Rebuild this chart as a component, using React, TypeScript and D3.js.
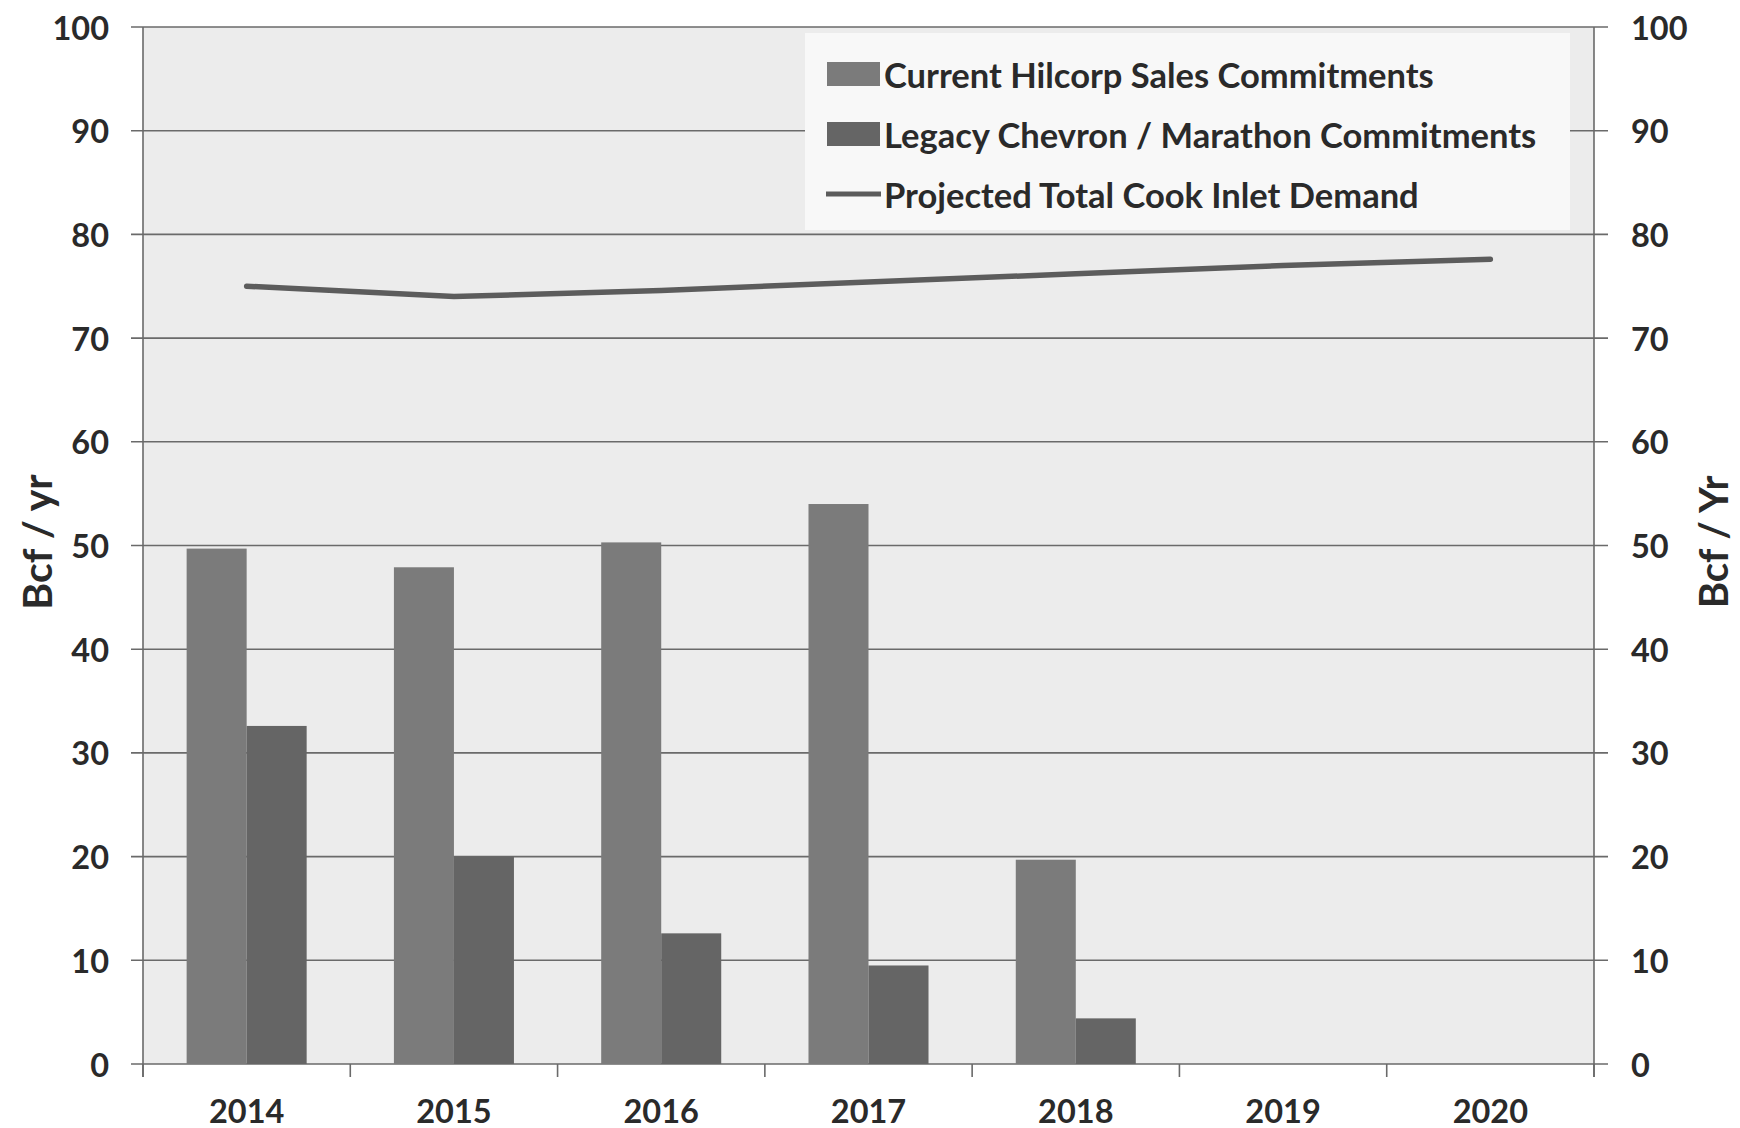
import React from "react";
import * as d3 from "d3";

const years = ["2014", "2015", "2016", "2017", "2018", "2019", "2020"];
const seriesNames = [
  "Current Hilcorp Sales Commitments",
  "Legacy Chevron / Marathon Commitments",
];
const hilcorp: (number | null)[] = [49.7, 47.9, 50.3, 54.0, 19.7, null, null];
const legacy: (number | null)[] = [32.6, 20.0, 12.6, 9.5, 4.4, null, null];
const demand = [75.0, 74.0, 74.6, 75.4, 76.2, 77.0, 77.6];
const lineName = "Projected Total Cook Inlet Demand";
const yTicks = [0, 10, 20, 30, 40, 50, 60, 70, 80, 90, 100];
const leftTitle = "Bcf / yr";
const rightTitle = "Bcf / Yr";

const W = 1740;
const H = 1128;
const L = 143;
const R = 1594;
const T = 27;
const B = 1064;
const FONT = "Lato, 'Open Sans', sans-serif";
const TEXT = "#2a2a2a";
const GRID = "#6a6a6a";
const barColors = ["#7b7b7b", "#656565"];

export default function App() {
  const x = d3.scaleBand<string>().domain(years).range([L, R]).padding(0);
  const xs = d3
    .scaleBand<number>()
    .domain([0, 1])
    .range([0, x.bandwidth()])
    .paddingInner(0)
    .paddingOuter(0.727);
  const y = d3.scaleLinear().domain([0, 100]).range([B, T]);
  const series = [hilcorp, legacy];
  const line = d3
    .line<number>()
    .x((_, i) => (x(years[i]) as number) + x.bandwidth() / 2)
    .y((d) => y(d));

  const boundaries = years.map((yr) => x(yr) as number).concat([R]);

  return (
    <div style={{ position: "absolute", left: 0, top: 0 }}>
      <svg width={W} height={H} style={{ display: "block", background: "#fff" }}>
        <rect x={L} y={T} width={R - L} height={B - T} fill="#ececec" />
        {yTicks.map((t) => (
          <g key={t}>
            <line x1={L - 12} x2={R + 14} y1={y(t)} y2={y(t)} stroke={GRID} strokeWidth={1.6} />
            <text
              x={109}
              y={y(t)}
              textAnchor="end"
              dominantBaseline="central"
              fontFamily={FONT}
              fontWeight={700}
              fontSize={32.5}
              fill={TEXT}
            >
              {t}
            </text>
            <text
              x={1631}
              y={y(t)}
              textAnchor="start"
              dominantBaseline="central"
              fontFamily={FONT}
              fontWeight={700}
              fontSize={32.5}
              fill={TEXT}
            >
              {t}
            </text>
          </g>
        ))}
        <line x1={L} x2={L} y1={T} y2={B + 13} stroke={GRID} strokeWidth={1.6} />
        <line x1={R} x2={R} y1={T} y2={B + 13} stroke={GRID} strokeWidth={1.6} />
        {boundaries.map((bx, i) => (
          <line key={i} x1={bx} x2={bx} y1={B} y2={B + 13} stroke={GRID} strokeWidth={1.6} />
        ))}
        {series.map((vals, si) =>
          vals.map((v, i) =>
            v == null ? null : (
              <rect
                key={si + "-" + i}
                x={(x(years[i]) as number) + (xs(si) as number)}
                y={y(v)}
                width={xs.bandwidth()}
                height={B - y(v)}
                fill={barColors[si]}
              />
            )
          )
        )}
        <path d={line(demand) || ""} fill="none" stroke="#5c5c5c" strokeWidth={5.5} strokeLinecap="round" />
        {years.map((yr) => (
          <text
            key={yr}
            x={(x(yr) as number) + x.bandwidth() / 2}
            y={1110}
            textAnchor="middle"
            dominantBaseline="central"
            fontFamily={FONT}
            fontWeight={700}
            fontSize={32.5}
            fill={TEXT}
          >
            {yr}
          </text>
        ))}
        <text
          transform={`translate(36,542) rotate(-90)`}
          textAnchor="middle"
          dominantBaseline="central"
          fontFamily={FONT}
          fontWeight={700}
          fontSize={41}
          fill={TEXT}
        >
          {leftTitle}
        </text>
        <text
          transform={`translate(1713,542) rotate(-90)`}
          textAnchor="middle"
          dominantBaseline="central"
          fontFamily={FONT}
          fontWeight={700}
          fontSize={40}
          fill={TEXT}
        >
          {rightTitle}
        </text>
        <rect x={805} y={33} width={765} height={197} fill="#f8f8f8" />
        {[0, 1, 2].map((i) => {
          const cy = 74 + i * 60;
          const label = i < 2 ? seriesNames[i] : lineName;
          return (
            <g key={i}>
              {i < 2 ? (
                <rect x={827} y={cy - 12} width={53} height={24} fill={barColors[i]} />
              ) : (
                <line x1={826} x2={881} y1={cy} y2={cy} stroke="#5c5c5c" strokeWidth={5} />
              )}
              <text
                x={884}
                y={cy}
                dominantBaseline="central"
                fontFamily={FONT}
                fontWeight={700}
                fontSize={34.5}
                fill={TEXT}
              >
                {label}
              </text>
            </g>
          );
        })}
      </svg>
    </div>
  );
}
